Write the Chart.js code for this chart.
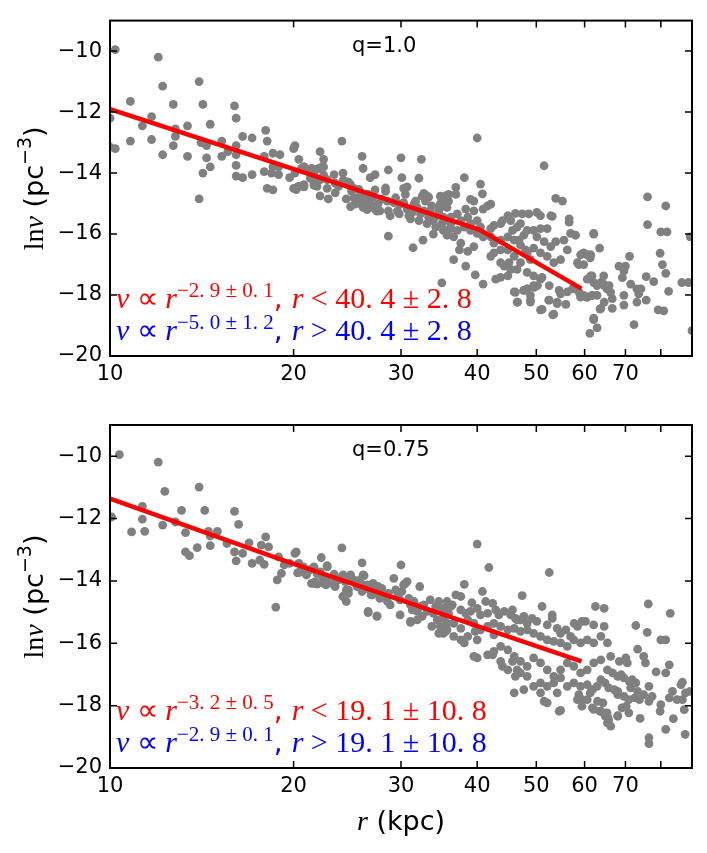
<!DOCTYPE html>
<html lang="en">
<head>
<meta charset="UTF-8">
<title>ln nu vs r</title>
<script src="https://cdn.jsdelivr.net/npm/chart.js"></script>
<style>
    body { margin: 0; background: #fff; }
    canvas { position: absolute; left: 0; }
    #chartTop { top: 0; }
    #chartBottom { top: 400px; }
</style>
</head>
<body>
<canvas id="chartTop" width="707" height="400"></canvas>
<canvas id="chartBottom" width="707" height="453"></canvas>
<script>
// axis ticks
const xTicks = [10, 20, 30, 40, 50, 60, 70, 80];
const xTickLabels = ['10', '20', '30', '40', '50', '60', '70', ''];
const yTicks = [-20, -18, -16, -14, -12, -10];

// fitted broken power laws
const fitTopR = [10, 40.4, 59.3];
const fitTopNu = [-11.9, -15.86, -17.79];
const fitBotR = [10, 19.1, 59.3];
const fitBotNu = [-11.36, -13.32, -16.58];

// q = 1.0 sample  [r, ln nu]
const topPts = [
[10.2,-9.95],[10.0,-12.2],[10.0,-13.15],[10.2,-13.2],[12.0,-10.2],[12.2,-11.15],[10.8,-11.65],[12.7,-11.75],
[14.2,-11.75],[14.0,-11.0],[16.0,-11.8],[16.1,-12.2],[11.7,-12.15],[11.3,-12.45],[12.8,-12.55],[13.4,-12.45],
[14.6,-12.4],[10.8,-12.95],[11.7,-12.9],[12.8,-12.8],[12.7,-13.1],[12.2,-13.4],[13.4,-13.45],[14.1,-13.0],
[14.4,-13.1],[14.4,-13.5],[14.6,-13.8],[14.2,-14.0],[14.0,-14.85],[15.25,-12.95],[15.25,-13.45],[15.6,-13.3],
[16.1,-13.1],[16.1,-13.4],[16.1,-13.75],[16.1,-14.1],[16.5,-14.15],[16.5,-12.8],[17.1,-12.85],[17.1,-14.05],
[18.0,-12.6],[18.1,-12.95],[17.9,-13.45],[18.5,-13.35],[19.0,-13.4],[17.9,-13.95],[18.4,-14.0],[18.9,-14.05],
[18.5,-13.8],[18.9,-13.8],[18.1,-14.5],[18.5,-14.55],[20.1,-13.1],[20.0,-13.2],[20.4,-13.55],[19.7,-14.15],
[20.1,-14.0],[20.0,-14.5],[20.3,-14.45],[20.6,-13.85],[21.0,-13.9],[20.8,-14.45],[22.1,-13.3],[22.4,-13.55],
[22.4,-13.8],[21.7,-13.9],[21.6,-14.05],[22.0,-14.2],[21.6,-14.4],[22.7,-14.5],[22.1,-14.75],[22.8,-14.85],
[23.3,-14.05],[23.4,-14.65],[24.0,-12.95],[24.1,-14.25],[24.1,-14.0],[24.6,-14.3],[24.8,-14.45],[25.1,-14.5],
[24.4,-14.85],[25.9,-13.45],[26.0,-13.85],[25.8,-14.75],[25.8,-14.85],[26.7,-14.15],[27.2,-14.05],[27.2,-14.55],
[24.8,-15.1],[25.7,-15.0],[26.4,-15.2],[27.4,-15.25],[27.0,-14.8],
[20.8,-13.79],[21.4,-13.85],[22.0,-13.85],[22.3,-13.79],[21.3,-14.17],[21.6,-14.33],[21.85,-14.44],[20.8,-14.38],
[20.4,-14.44],[20.2,-14.54],[22.1,-14.22],[22.4,-14.06],[22.7,-14.22],[23.4,-14.33],[23.7,-14.44],[24.4,-14.28],
[24.8,-14.38],[24.9,-14.6],[25.1,-14.81],[25.2,-15.02],[25.6,-14.54],[25.7,-14.76],[25.9,-14.92],[26.0,-15.13],
[26.4,-14.86],[26.5,-14.7],[26.7,-15.02],[27.0,-14.76],[27.2,-15.18],[27.5,-15.02],[27.7,-15.24],[27.9,-14.86],
[28.3,-14.6],[28.5,-14.92],[28.6,-15.24],[28.8,-15.4],[29.2,-14.97],[29.4,-14.81],[29.6,-15.24],[29.8,-15.34],
[29.9,-15.02],[30.3,-14.97],[30.5,-14.7],[30.7,-15.18],[30.9,-15.4],[31.1,-15.5],[31.3,-15.29],[31.5,-15.02],
[31.7,-14.92],[31.9,-15.13],[32.1,-15.56],[32.3,-15.34],[32.5,-14.76],[32.7,-15.24],[32.9,-14.92],[33.1,-15.66],
[33.3,-15.45],[33.5,-15.24],[33.7,-15.08],[33.9,-15.56],[34.2,-15.77],[34.4,-15.4],[34.6,-15.24],[34.8,-15.02],
[35.0,-15.66],[35.2,-15.45],[35.5,-15.88],[35.7,-15.13],[35.9,-15.56],[36.2,-15.66],[35.9,-14.92],[30.0,-13.5],
[32.4,-13.55],[28.6,-13.9],[30.1,-14.15],[32.1,-14.17],[30.7,-14.45],[30.3,-14.5],[32.7,-14.67],[33.1,-14.75],
[35.5,-14.75],[35.9,-14.7],[28.6,-16.07],[31.4,-16.45],[32.6,-16.2],[33.9,-16.0],[35.0,-17.6],[28.3,-14.49],
[33.3,-14.79],[34.8,-14.76],[35.0,-14.92],
[40.0,-12.85],[51.5,-13.76],[38.1,-14.15],[40.5,-14.36],[36.9,-14.47],[36.9,-14.7],[40.8,-14.68],[39.0,-14.86],
[39.5,-14.92],[42.1,-15.02],[41.6,-15.08],[40.9,-15.18],[35.5,-14.97],[34.8,-15.13],[38.3,-15.18],[39.5,-15.24],
[37.1,-15.34],[36.2,-15.45],[37.6,-15.56],[38.6,-15.45],[40.0,-15.56],[39.0,-15.66],[53.8,-14.83],[55.2,-14.92],
[53.1,-15.42],
[46.2,-15.32],[47.4,-15.34],[48.6,-15.34],[50.1,-15.29],[50.8,-15.4],[52.8,-15.4],[44.9,-15.4],[44.0,-15.56],
[45.4,-15.56],[43.7,-15.66],[42.6,-15.72],[42.1,-15.82],[47.1,-15.66],[48.3,-15.88],[49.5,-15.88],[50.8,-15.82],
[52.1,-15.82],[47.7,-16.04],[46.8,-16.2],[50.1,-16.09],[51.5,-16.25],[52.8,-16.41],[53.8,-16.25],[55.5,-16.2],
[56.9,-15.98],[58.0,-16.04],[56.6,-15.5],[56.6,-15.61],[62.1,-15.98],[60.6,-16.68],[61.3,-16.78],[59.1,-16.68],
[58.4,-16.94],[56.2,-16.52],[54.8,-16.84],[53.4,-16.94],[52.1,-16.73],[50.8,-16.62],[49.5,-16.46],[48.3,-16.62],
[48.9,-16.84],[47.1,-16.94],[46.0,-16.73],[44.9,-16.52],[43.7,-16.52],[42.6,-16.62],[42.1,-16.73],[44.3,-17.05],
[45.4,-17.16],[44.9,-17.37],[43.7,-17.42],[42.9,-17.48],[43.7,-16.94],[45.1,-16.94],[46.5,-17.16],[48.3,-17.26],
[49.5,-17.37],[50.8,-17.48],[48.3,-17.8],[49.5,-17.69],[47.7,-17.85],[48.9,-18.01],[51.1,-17.42],[52.5,-17.69],
[54.5,-17.85],[54.8,-17.96],[56.2,-17.9],[57.3,-17.8],[58.7,-17.9],[59.1,-18.07],[60.6,-17.48],[61.7,-17.37],
[62.9,-17.64],[64.6,-17.69],[65.4,-17.8],[62.9,-18.01],[64.6,-18.23],[61.7,-18.01],[60.6,-18.07],[59.8,-18.01],
[54.1,-18.28],[55.9,-18.31],[52.5,-18.17],[50.8,-18.49],[48.9,-18.23],[46.5,-18.23],[46.0,-17.9],[40.9,-17.64],
[39.7,-17.34],[36.6,-16.84],[38.3,-17.05],[37.4,-16.52],[38.6,-16.57],[39.5,-16.41],[37.6,-16.3],[36.6,-16.09],
[35.7,-16.04],[35.2,-15.88],[36.2,-15.82],[37.1,-15.88],[38.1,-15.77],[39.0,-15.88],[40.0,-15.98],[40.9,-16.09],
[40.5,-15.77],[42.1,-16.09],[42.6,-16.3],[43.7,-16.2],[44.9,-16.09],[45.7,-15.88],[46.5,-15.77],[46.0,-16.2],
[47.1,-16.36],[48.0,-16.52],[53.4,-18.63],[62.1,-18.76],[63.8,-18.44],
[76.1,-14.78],[81.5,-15.08],[76.1,-15.69],[80.0,-15.93],[81.9,-15.93],[89.4,-16.09],[79.8,-16.63],[80.5,-17.0],
[81.5,-17.29],[82.4,-17.88],[77.9,-17.56],[75.7,-17.4],[74.2,-17.8],[75.7,-18.17],[79.2,-18.49],[80.9,-18.52],
[86.6,-17.59],[88.8,-17.59],[90.0,-19.17],[71.1,-16.73],[70.0,-17.05],[69.6,-17.21],[68.3,-17.05],[69.2,-17.43],
[71.4,-17.64],[73.1,-17.8],[73.6,-17.96],[69.6,-18.01],[69.6,-18.33],[73.1,-18.23],[72.3,-18.97],[66.6,-18.12],
[66.6,-18.44],[63.6,-18.46],[62.1,-18.81],[62.9,-19.08],[61.2,-19.26],[62.1,-16.0],[63.5,-16.46],[61.4,-16.68],
[59.8,-16.62],[59.8,-17.0],[58.7,-17.0],[61.4,-17.37],[62.1,-17.59],[62.9,-17.69],[63.8,-17.59],[64.5,-17.64],
[65.3,-17.8],[66.2,-17.91],[65.8,-17.69],[64.5,-17.37],[59.1,-18.01],[60.6,-18.07],[61.8,-18.01],[46.2,-17.91],
[46.6,-18.23],[48.9,-18.17],[47.7,-17.85],[48.3,-17.8],[49.6,-17.75],[50.2,-17.69],[51.1,-18.47],[53.2,-18.65],
[52.4,-18.17],[54.1,-18.23]
];

// q = 0.75 sample  [r, ln nu]
const botPts = [
[10.36,-9.95],[10.06,-11.95],[12.0,-10.19],[12.3,-11.13],[11.3,-11.61],[11.3,-12.02],[10.85,-12.43],[11.4,-12.41],
[12.2,-12.21],[12.8,-12.11],[13.1,-11.74],[13.3,-12.45],[13.3,-13.07],[13.5,-13.19],[14.0,-10.99],[14.3,-11.74],
[13.9,-12.93],[14.5,-12.41],[14.6,-12.56],[14.6,-12.87],[15.0,-12.41],[15.55,-12.8],[16.0,-11.77],[16.25,-12.19],
[16.0,-13.07],[16.1,-13.36],[16.5,-13.12],[16.9,-12.78],[17.1,-13.44],[17.6,-13.33],[17.9,-13.47],[17.7,-12.85],
[18.0,-12.59],[18.2,-12.91],[18.9,-13.23],[18.8,-13.97],[19.1,-13.76],[18.7,-14.84],[19.3,-13.49],[19.7,-13.44],
[20.1,-13.12],[20.2,-13.07],[20.4,-13.73],[20.75,-13.55],[21.2,-13.65],[21.0,-13.81],[21.4,-14.08],[21.7,-14.02],
[22.2,-13.25],[22.7,-13.55],[22.4,-13.87],[22.7,-14.02],[23.4,-13.87],[23.3,-14.13],[24.0,-12.94],[24.1,-13.87],
[24.1,-14.5],[24.4,-14.66],[24.6,-14.29],[24.8,-13.87],[24.6,-13.97],[25.1,-13.97],[25.9,-13.42],[26.1,-13.83],
[25.9,-14.13],[26.3,-14.24],[26.5,-15.02],[27.4,-15.14],[26.9,-14.45],[27.2,-14.34],[27.0,-14.08],[27.5,-14.18],
[30.0,-13.49],[22.7,-13.51],[20.4,-13.44],[20.3,-13.74],[20.5,-13.71],[20.9,-13.76],[21.3,-13.65],[21.6,-13.55],
[21.85,-13.76],[22.1,-13.71],[22.3,-13.87],[22.6,-13.92],[21.6,-14.08],[21.85,-14.1],[22.4,-14.08],[22.6,-14.13],
[23.3,-13.78],[23.4,-13.92],[23.4,-14.18],[23.7,-13.97],[24.1,-13.81],[24.3,-14.02],[24.4,-14.29],[24.1,-14.5],
[24.6,-14.4],[24.8,-13.81],[25.4,-14.18],[25.7,-13.97],[26.0,-13.81],[25.9,-14.34],[26.4,-14.13],[26.7,-14.29],
[26.8,-14.45],[27.2,-14.18],[27.3,-14.34],[27.7,-14.56],[27.9,-14.24],[28.3,-14.45],[28.5,-14.66],[28.6,-14.4],
[28.8,-14.77],[26.5,-14.98],[27.4,-15.12],[29.2,-13.92],[29.4,-14.29],[29.6,-14.5],[29.9,-14.61],[30.1,-14.34],
[30.3,-14.13],[30.5,-14.08],[30.7,-14.02],[30.9,-14.56],[31.1,-14.77],[31.3,-14.93],[31.5,-14.66],[31.9,-14.98],
[32.2,-14.18],[32.3,-14.82],[32.5,-15.14],[32.7,-14.77],[33.1,-14.98],[33.5,-14.61],[33.7,-15.46],[33.9,-15.04],
[34.2,-14.82],[34.4,-15.25],[34.6,-14.66],[34.8,-15.46],[35.0,-14.93],[35.2,-15.2],[35.5,-15.62],[35.7,-15.36],
[35.9,-15.04],[36.2,-14.82],[34.6,-15.68],[35.2,-15.68],[29.9,-15.09],[31.1,-15.33],[31.9,-15.25],[31.1,-15.3],
[40.0,-12.82],[41.8,-13.57],[52.5,-13.73],[38.1,-14.11],[40.8,-14.34],[47.4,-14.47],[36.9,-14.45],[37.6,-14.5],
[39.2,-14.7],[41.3,-14.66],[42.4,-14.72],
[35.7,-14.66],[35.2,-14.88],[36.4,-14.77],[37.6,-14.93],[38.3,-15.04],[39.0,-14.98],[40.0,-14.88],[40.5,-15.09],
[41.6,-15.04],[42.9,-14.93],[43.4,-15.09],[44.3,-14.98],[45.4,-15.09],[46.2,-15.2],[47.1,-15.25],[47.7,-15.14],
[48.3,-15.36],[49.2,-15.2],[50.1,-15.3],[51.1,-14.82],[52.1,-15.41],[53.1,-15.2],[54.1,-15.52],[54.8,-15.68],
[55.9,-15.57],[56.9,-15.78],[58.4,-15.46],[59.4,-15.3],[60.2,-15.3],[62.1,-15.41],[62.5,-14.82],[64.6,-14.88],
[64.6,-15.46],[63.8,-15.78],[65.4,-15.99],[62.1,-15.99],[60.6,-15.89],[59.1,-15.99],[57.6,-15.89],[56.2,-16.1],
[54.8,-15.99],[53.4,-15.94],[52.1,-15.89],[50.8,-15.78],[49.5,-15.68],[48.3,-15.57],[47.1,-15.62],[46.0,-15.52],
[44.9,-15.57],[43.7,-15.46],[42.6,-15.36],[41.6,-15.46],[40.5,-15.57],[39.5,-15.36],[38.6,-15.25],[37.6,-15.52],
[36.6,-15.36],[35.7,-15.57],[38.1,-15.99],[40.0,-15.89],[39.5,-16.42],[41.6,-16.37],[42.6,-16.26],[43.7,-16.1],
[44.9,-16.21],[46.0,-16.42],[47.1,-16.58],[48.3,-16.74],[49.5,-16.47],[50.8,-16.63],[52.1,-16.85],[53.4,-17.06],
[54.8,-16.85],[56.2,-16.63],[57.6,-16.74],[59.1,-16.95],[60.6,-16.85],[62.1,-16.63],[63.8,-16.53],[65.4,-16.85],
[63.8,-17.17],[62.9,-17.38],[61.3,-17.59],[60.6,-17.81],[59.1,-17.38],[57.6,-17.27],[56.2,-17.38],[54.8,-17.11],
[53.4,-17.27],[52.1,-17.38],[50.8,-17.27],[49.5,-17.38],[48.3,-17.06],[47.1,-16.95],[46.2,-17.06],[45.7,-16.58],
[47.7,-17.49],[50.8,-17.59],[52.1,-17.91],[54.1,-17.59],[54.5,-18.18],[58.4,-17.81],[59.4,-18.02],[62.1,-18.12],
[63.8,-18.18],[65.4,-18.34],[65.4,-18.55],[46.0,-17.59],[43.7,-16.58],[42.4,-16.37],[44.0,-16.74],[46.5,-16.85],
[44.9,-16.85],[45.7,-14.93],[46.5,-15.25],[42.6,-15.73],[39.7,-15.62],[38.6,-15.78],[36.6,-15.78],[40.0,-16.47],
[37.6,-15.89],[53.1,-15.09],[57.7,-15.36],
[72.8,-15.43],[76.0,-15.65],[80.0,-15.89],[81.5,-15.89],[73.3,-16.19],[75.0,-16.42],[75.5,-16.63],[82.6,-16.69],
[78.6,-16.92],[81.5,-16.95],[86.8,-17.25],[66.2,-16.42],[68.4,-16.58],[70.1,-16.47],[70.5,-16.63],[66.7,-16.95],
[68.0,-17.06],[68.9,-17.01],[69.6,-17.11],[71.0,-17.22],[71.8,-17.17],[72.8,-17.27],[71.4,-17.43],[73.3,-17.54],
[75.0,-17.65],[76.5,-17.38],[77.4,-17.7],[76.5,-17.86],[73.8,-17.81],[72.5,-17.75],[70.9,-17.81],[69.6,-17.7],
[68.0,-17.65],[67.1,-17.49],[65.7,-17.43],[64.8,-17.27],[64.3,-17.91],[68.0,-17.54],[69.1,-18.07],[70.9,-18.23],
[65.3,-18.23],[65.7,-18.45],[66.2,-18.66],[68.0,-18.32],[70.2,-18.02],[80.0,-17.97],[79.8,-18.18],[82.6,-17.75],
[83.6,-17.54],[85.1,-17.81],[86.8,-17.81],[87.8,-17.59],[89.4,-17.54],[87.4,-18.13],[86.3,-17.33],[76.5,-19.03],
[76.5,-19.22],[81.5,-18.76],[83.9,-18.42],[87.7,-18.92],[68.0,-18.34],[74.0,-18.41],[61.8,-17.49],[60.6,-17.33],
[63.0,-17.86],[59.4,-17.81],[58.7,-17.65],[61.8,-18.07],[63.6,-18.18],[64.9,-18.34],[54.8,-18.15],[51.5,-17.86],
[76.3,-14.74],[82.9,-15.04]
];

const TICK = 7;
const SERIF = '"Liberation Serif", serif';
const SANS = '"DejaVu Sans", sans-serif';

function mathLine(sup, rel, val) {
    return [
        { t: 'ν', f: 'italic 30px ' + SERIF },
        { t: ' ∝ ', f: '30px ' + SERIF },
        { t: 'r', f: 'italic 30px ' + SERIF },
        { t: sup, f: '21px ' + SERIF, dy: -11 },
        { t: ', ', f: '28px ' + SANS },
        { t: 'r', f: 'italic 30px ' + SERIF },
        { t: ' ' + rel + ' ', f: '30px ' + SERIF },
        { t: val, f: '30px ' + SERIF }
    ];
}

function drawParts(ctx, x, y, parts, color) {
    ctx.fillStyle = color;
    parts.forEach(p => {
        ctx.font = p.f;
        ctx.fillText(p.t, x, y + (p.dy || 0));
        x += ctx.measureText(p.t).width;
    });
    return x;
}

function partsWidth(ctx, parts) {
    let w = 0;
    parts.forEach(p => { ctx.font = p.f; w += ctx.measureText(p.t).width; });
    return w;
}

const framePlugin = {
    id: 'frame',
    afterDatasetsDraw(chart) {
        const { ctx, chartArea: a, scales } = chart;
        const o = chart.options.plugins.frame;
        ctx.save();
        ctx.strokeStyle = '#000';
        ctx.lineWidth = 1.5;
        ctx.beginPath();
        xTicks.forEach(v => {
            const px = scales.x.getPixelForValue(v);
            ctx.moveTo(px, a.bottom); ctx.lineTo(px, a.bottom - TICK);
            ctx.moveTo(px, a.top); ctx.lineTo(px, a.top + TICK);
        });
        yTicks.forEach(v => {
            const py = scales.y.getPixelForValue(v);
            ctx.moveTo(a.left, py); ctx.lineTo(a.left + TICK, py);
            ctx.moveTo(a.right, py); ctx.lineTo(a.right - TICK, py);
        });
        ctx.stroke();
        ctx.lineWidth = 2;
        ctx.strokeRect(a.left, a.top, a.right - a.left, a.bottom - a.top);

        // q label
        ctx.textBaseline = 'alphabetic';
        ctx.textAlign = 'left';
        ctx.fillStyle = '#000';
        ctx.font = '21px ' + SANS;
        ctx.fillText(o.q, 352, a.top + 31);

        // fit annotations
        drawParts(ctx, 116, a.bottom - 48, o.red, '#ff0000');
        drawParts(ctx, 116, a.bottom - 16, o.blue, '#0000ff');

        // y title
        const yt = [
            { t: 'ln', f: '28px ' + SERIF },
            { t: 'ν', f: 'italic 28px ' + SERIF },
            { t: ' (pc', f: '27px ' + SANS },
            { t: '−3', f: '19px ' + SANS, dy: -12 },
            { t: ')', f: '27px ' + SANS }
        ];
        ctx.save();
        ctx.translate(43, (a.top + a.bottom) / 2);
        ctx.rotate(-Math.PI / 2);
        drawParts(ctx, -partsWidth(ctx, yt) / 2, 0, yt, '#000');
        ctx.restore();

        // x title
        if (o.xTitle) {
            const xt = [
                { t: 'r', f: 'italic 28px ' + SERIF },
                { t: ' (kpc)', f: '27px ' + SANS }
            ];
            const cx = (a.left + a.right) / 2;
            drawParts(ctx, cx - partsWidth(ctx, xt) / 2, a.bottom + 62, xt, '#000');
        }
        ctx.restore();
    }
};

function makePanel(id, pts, fitR, fitNu, frameOpts, padTop, xHeight) {
    const ctx = document.getElementById(id).getContext('2d');
    return new Chart(ctx, {
        type: 'scatter',
        data: {
            datasets: [
                {
                    type: 'line',
                    data: fitR.map((r, i) => ({ x: r, y: fitNu[i] })),
                    borderColor: '#ff0000',
                    borderWidth: 4.5,
                    pointRadius: 0,
                    fill: false,
                    tension: 0,
                    clip: 0,
                    order: 0
                },
                {
                    data: pts.map(p => ({ x: p[0], y: p[1] })),
                    backgroundColor: '#808080',
                    borderWidth: 0,
                    pointRadius: 4.4,
                    clip: 0,
                    order: 1
                }
            ]
        },
        options: {
            responsive: false,
            animation: false,
            layout: { padding: { left: 0, top: padTop, right: 15, bottom: 0 } },
            plugins: {
                legend: { display: false },
                tooltip: { enabled: false },
                frame: frameOpts
            },
            scales: {
                x: {
                    type: 'logarithmic',
                    min: 10,
                    max: 90,
                    grid: { display: false, drawTicks: false },
                    border: { display: false },
                    afterBuildTicks: s => { s.ticks = xTicks.map(v => ({ value: v })); },
                    afterFit: s => { s.height = xHeight; },
                    ticks: {
                        autoSkip: false,
                        maxRotation: 0,
                        padding: 6,
                        color: '#000',
                        font: { family: 'DejaVu Sans', size: 21 },
                        callback: (v, i) => xTickLabels[i]
                    }
                },
                y: {
                    min: -20,
                    max: -9,
                    grid: { display: false, drawTicks: false },
                    border: { display: false },
                    afterBuildTicks: s => { s.ticks = yTicks.map(v => ({ value: v })); },
                    afterFit: s => { s.width = 110; },
                    ticks: {
                        padding: 8,
                        color: '#000',
                        font: { family: 'DejaVu Sans', size: 21 },
                        callback: v => (v < 0 ? '\u2212' : '') + Math.abs(v)
                    }
                }
            }
        },
        plugins: [framePlugin]
    });
}

makePanel('chartTop', topPts, fitTopR, fitTopNu, {
    q: 'q=1.0',
    red: mathLine('−2. 9 ± 0. 1', '<', '40. 4 ± 2. 8'),
    blue: mathLine('−5. 0 ± 1. 2', '>', '40. 4 ± 2. 8'),
    xTitle: false
}, 13, 44);

makePanel('chartBottom', botPts, fitBotR, fitBotNu, {
    q: 'q=0.75',
    red: mathLine('−3. 2 ± 0. 5', '<', '19. 1 ± 10. 8'),
    blue: mathLine('−2. 9 ± 0. 1', '>', '19. 1 ± 10. 8'),
    xTitle: true
}, 25, 85);
</script>
</body>
</html>
